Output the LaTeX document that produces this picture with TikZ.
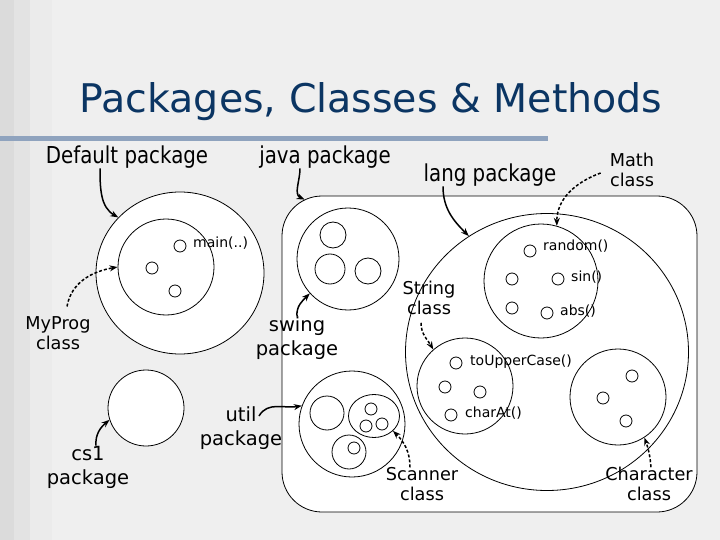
\documentclass[tikz,border=0pt]{standalone}
\usepackage{fontspec}
\setmainfont{DejaVu Sans}
\newfontfamily\tallfont[FakeStretch=0.85]{DejaVu Sans}
\usepackage{xcolor}
\usetikzlibrary{shapes, arrows.meta, positioning}
\definecolor{titleblue}{HTML}{0B3563}
\definecolor{barblue}{HTML}{8FA3BE}
\definecolor{slidegray}{HTML}{EFEFEF}

\begin{document}
\begin{tikzpicture}[x=1pt, y=-1pt,
        ring/.style={circle, draw, line width=0.8pt, fill=white, inner sep=0pt},
        oval/.style={ellipse, draw, line width=0.8pt, fill=white, inner sep=0pt},
        dot/.style={circle, draw, line width=0.8pt, fill=white, inner sep=0pt, minimum size=12pt},
        biglbl/.style={font=\tallfont\fontsize{23.3}{26}\selectfont, inner sep=0pt},
        lbl/.style={font=\fontsize{19.5}{24}\selectfont, align=center, inner sep=0pt},
        clslbl/.style={font=\fontsize{17.7}{19.5}\selectfont, align=center, inner sep=0pt},
        mlbl/.style={font=\fontsize{14}{16}\selectfont, anchor=west, inner sep=0pt},
        arr/.style={-{Stealth[length=8pt, width=6pt]}, line width=1.5pt},
        darr/.style={arr, dash pattern=on 3pt off 2pt}]
        % slide background
        \fill[slidegray] (0,0) rectangle (720,540);
        \fill[black!14] (0,0) rectangle (14,540);
        \fill[black!11] (14,0) rectangle (30,540);
        \fill[black!8] (30,0) rectangle (52,540);
        \useasboundingbox (0,0) rectangle (720,540);
        \node[font=\fontsize{39.5}{40}\selectfont, text=titleblue, inner sep=0pt] (title) at (371,102) {Packages, Classes \& Methods};
        \fill[barblue] (0,136) rectangle (548,141);

        % default package
        \node[oval, minimum width=168pt, minimum height=162pt] (default) at (180,273) {};
        \node[ring, minimum size=96pt] (myprog) at (166,267) {};
        \node[dot] (mainm) at (180,246) {};
        \node[dot] (myd2) at (152,268) {};
        \node[dot] (myd3) at (175,291) {};
        \node[mlbl] (mainlbl) at (193,243) {main(..)};
        \node[ring, minimum size=76pt] (cs1) at (146,408) {};

        % java package
        \node[draw, line width=0.8pt, fill=white, rounded corners=40pt, minimum width=415pt, minimum height=316pt, inner sep=0pt] (java) at (489.5,354) {};
        \node[ring, minimum size=102pt] (swing) at (348,259) {};
        \node[ring, minimum size=26pt] (sw1) at (333,235) {};
        \node[ring, minimum size=30pt] (sw2) at (330,269) {};
        \node[ring, minimum size=26pt] (sw3) at (368,271) {};
        \node[ring, minimum size=106pt] (util) at (352,424) {};
        \node[ring, minimum size=34pt] (ut1) at (327,413) {};
        \node[oval, minimum width=51pt, minimum height=43pt] (scanner) at (374,416) {};
        \node[dot] (sc1) at (371,409) {};
        \node[dot] (sc2) at (366,426) {};
        \node[dot] (sc3) at (382,424) {};
        \node[ring, minimum size=34pt] (ut2) at (349,452) {};
        \node[dot] (ut2d) at (354,448) {};

        % lang package
        \node[oval, minimum width=283pt, minimum height=277pt] (lang) at (547,352) {};
        \node[ring, minimum size=114pt] (math) at (541,281) {};
        \node[dot] (random) at (530,251) {};
        \node[dot] (md2) at (512,279) {};
        \node[dot] (sin) at (558,279) {};
        \node[dot] (md4) at (512,308) {};
        \node[dot] (abs) at (547,313) {};
        \node[mlbl] (randomlbl) at (543,246) {random()};
        \node[mlbl] (sinlbl) at (571,277) {sin()};
        \node[mlbl] (abslbl) at (560,311) {abs()};
        \node[ring, minimum size=96pt] (string) at (465,386) {};
        \node[dot] (upper) at (456,363) {};
        \node[dot] (st2) at (445,387) {};
        \node[dot] (st3) at (480,392) {};
        \node[dot] (charat) at (451,415) {};
        \node[mlbl] (upperlbl) at (470,362) {toUpperCase()};
        \node[mlbl] (charatlbl) at (465,413) {charAt()};
        \node[ring, minimum size=96pt] (character) at (618,397) {};
        \node[dot] (ch1) at (632,376) {};
        \node[dot] (ch2) at (603,398) {};
        \node[dot] (ch3) at (626,421) {};

        % labels
        \node[biglbl] (deflbl) at (127,157) {Default package};
        \node[biglbl] (javalbl) at (325,157) {java package};
        \node[biglbl] (langlbl) at (490,175) {lang package};
        \node[clslbl] (mathlbl) at (632,170) {Math\\class};
        \node[clslbl] (myproglbl) at (58,333) {MyProg\\class};
        \node[lbl] (swinglbl) at (297,338) {swing\\package};
        \node[lbl] (utillbl) at (241,428) {util\\package};
        \node[lbl] (cs1lbl) at (88,467) {cs1\\package};
        \node[clslbl] (stringlbl) at (429,298) {String\\class};
        \node[clslbl] (scannerlbl) at (422,484) {Scanner\\class};
        \node[clslbl] (charlbl) at (649,484) {Character\\class};

        % pointers
        \draw[arr] ([xshift=-27pt]deflbl.south) to[out=-90, in=150] (default.138);
        \draw[arr] ([xshift=-25pt]javalbl.south) to[out=-90, in=155] ([shift={(23,4)}]java.north west);
        \draw[arr] ([xshift=-47pt]langlbl.south) to[out=-90, in=135] (lang.124);
        \draw[darr] ([shift={(-9,3)}]mathlbl.west) to[out=200, in=90] (math.74);
        \draw[darr] ([shift={(9,-10)}]myproglbl.north) to[out=80, in=190] (myprog.180);
        \draw[arr] (swinglbl.north) to[out=95, in=225] (swing.222);
        \draw[arr] ([shift={(18,-12)}]utillbl.center) to[out=60, in=190] (util.160);
        \draw[arr] ([xshift=8pt]cs1lbl.north) to[out=95, in=220] (cs1.198);
        \draw[darr] ([shift={(-8,8)}]stringlbl.south) to[out=-90, in=120] (string.131);
        \draw[darr] ([xshift=-12pt]scannerlbl.north) to[out=90, in=-45] (scanner.-38);
        \draw[darr] ([xshift=2pt]charlbl.north) to[out=95, in=-70] (character.-57);
    \end{tikzpicture}
\end{document}
